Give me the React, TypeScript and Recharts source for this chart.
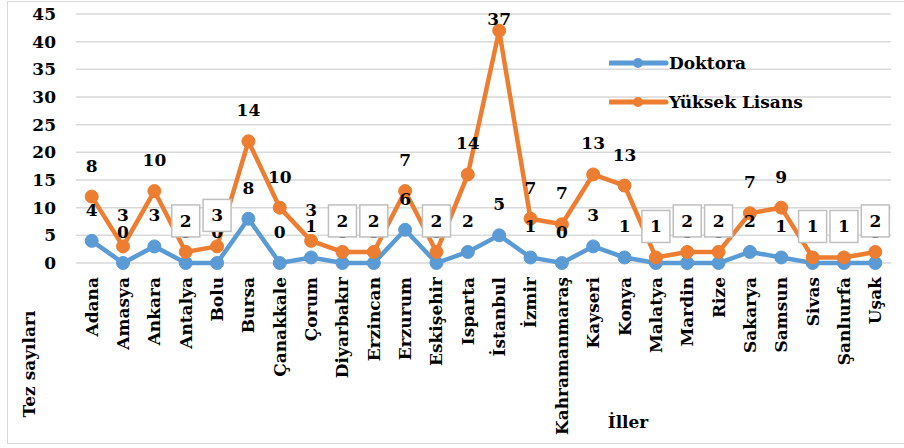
import React from "react";
import { LineChart, Line, XAxis, YAxis, CartesianGrid, Legend, LabelList } from "recharts";

const cities = [
  "Adana", "Amasya", "Ankara", "Antalya", "Bolu", "Bursa", "Çanakkale", "Çorum",
  "Diyarbakır", "Erzincan", "Erzurum", "Eskişehir", "Isparta", "İstanbul", "İzmir",
  "Kahramanmaraş", "Kayseri", "Konya", "Malatya", "Mardin", "Rize", "Sakarya",
  "Samsun", "Sivas", "Şanlıurfa", "Uşak",
];
const doktora = [4, 0, 3, 0, 0, 8, 0, 1, 0, 0, 6, 0, 2, 5, 1, 0, 3, 1, 0, 0, 0, 2, 1, 0, 0, 0];
const yuksekLisans = [8, 3, 10, 2, 3, 14, 10, 3, 2, 2, 7, 2, 14, 37, 7, 7, 13, 13, 1, 2, 2, 7, 9, 1, 1, 2];
const yTicks = [0, 5, 10, 15, 20, 25, 30, 35, 40, 45];
// labels that Excel drew inside a box
const boxedLabels = [
  "Antalya", "Bolu", "Diyarbakır", "Erzincan", "Eskişehir", "Malatya",
  "Mardin", "Rize", "Sivas", "Şanlıurfa", "Uşak",
];

const BLUE = "#5B9BD5";
const ORANGE = "#ED7D31";
const FONT = "'DejaVu Serif', serif";

// orange line is stacked on top of the blue one
const data = cities.map((name, i) => ({
  name,
  doktora: doktora[i],
  yl: yuksekLisans[i],
  total: doktora[i] + yuksekLisans[i],
}));

const textStyle = { fontFamily: FONT, fontWeight: 700, fontSize: 17, fill: "#000" };

const XTick = ({ x, y, payload }: any) => (
  <text
    transform={`translate(${x},${y}) rotate(-90)`}
    textAnchor="end"
    dy="0.35em"
    style={textStyle}
  >
    {payload.value}
  </text>
);

const makeLabel = (values: number[], boxed: boolean) => (props: any) => {
  const { x, y, index } = props;
  const v = values[index];
  const isBoxed = boxed && boxedLabels.includes(cities[index]);
  // keep the label inside the chart (Excel pushes the top one down)
  const ty = Math.max(y - 25, 25);
  return (
    <g>
      {isBoxed && (
        <rect x={x - 14} y={ty - 22} width={28} height={32} fill="#fff" stroke="#BFBFBF" strokeWidth={1.5} />
      )}
      <text x={x} y={ty} textAnchor="middle" style={textStyle}>
        {v}
      </text>
    </g>
  );
};

const renderLegend = (props: any) => {
  const items = (props.payload || []).filter((p: any) => p.type !== "none");
  return (
    <div>
      {items.map((p: any) => (
        <div key={p.value} style={{ display: "flex", alignItems: "center", height: 39 }}>
          <svg width={60} height={12}>
            <line x1={1} y1={6} x2={57} y2={6} stroke={p.color} strokeWidth={5} strokeLinecap="round" />
            <circle cx={29} cy={6} r={5} fill={p.color} />
          </svg>
          <span style={{ fontFamily: FONT, fontWeight: 700, fontSize: 17, color: "#000" }}>{p.value}</span>
        </div>
      ))}
    </div>
  );
};

export default function App() {
  return (
    <div style={{ position: "absolute", left: 0, top: 0, width: 904, height: 448, background: "#fff", overflow: "hidden" }}>
      <div style={{ position: "absolute", left: 7, top: 1, width: 920, height: 443, border: "1.5px solid #D9D9D9", boxSizing: "border-box" }} />
      <LineChart width={904} height={448} data={data} margin={{ top: 14, right: 13, left: 0, bottom: 0 }}>
        <CartesianGrid vertical={false} stroke="#D9D9D9" strokeWidth={1.5} />
        <XAxis
          dataKey="name"
          interval={0}
          height={185}
          padding={{ left: 15.7, right: 15.7 }}
          axisLine={false}
          tickLine={false}
          tickSize={0}
          tickMargin={14}
          tick={<XTick />}
        />
        <YAxis
          width={76}
          domain={[0, 45]}
          ticks={yTicks}
          axisLine={false}
          tickLine={false}
          tickSize={0}
          tickMargin={20}
          tick={textStyle}
        />
        <Legend
          layout="vertical"
          align="center"
          verticalAlign="middle"
          content={renderLegend}
          wrapperStyle={{ left: 609, top: 43, width: 240 }}
        />
        <Line
          dataKey="doktora"
          name="Doktora"
          stroke={BLUE}
          strokeWidth={4.5}
          dot={{ r: 6.5, fill: BLUE, stroke: BLUE, strokeWidth: 1 }}
          activeDot={false}
          isAnimationActive={false}
        />
        <Line
          dataKey="total"
          name="Yüksek Lisans"
          stroke={ORANGE}
          strokeWidth={4.5}
          dot={{ r: 6.5, fill: ORANGE, stroke: ORANGE, strokeWidth: 1 }}
          activeDot={false}
          isAnimationActive={false}
        />
        <Line dataKey="doktora" stroke="none" dot={false} activeDot={false} legendType="none" isAnimationActive={false}>
          <LabelList dataKey="doktora" content={makeLabel(doktora, false)} />
        </Line>
        <Line dataKey="total" stroke="none" dot={false} activeDot={false} legendType="none" isAnimationActive={false}>
          <LabelList dataKey="total" content={makeLabel(yuksekLisans, true)} />
        </Line>
      </LineChart>
      <div
        style={{
          position: "absolute", left: 29, top: 364, transform: "translate(-50%, -50%) rotate(-90deg)",
          fontFamily: FONT, fontWeight: 700, fontSize: 17, whiteSpace: "nowrap",
        }}
      >
        Tez sayıları
      </div>
      <div
        style={{
          position: "absolute", left: 628, top: 422, transform: "translate(-50%, -50%)",
          fontFamily: FONT, fontWeight: 700, fontSize: 17, whiteSpace: "nowrap",
        }}
      >
        İller
      </div>
    </div>
  );
}
